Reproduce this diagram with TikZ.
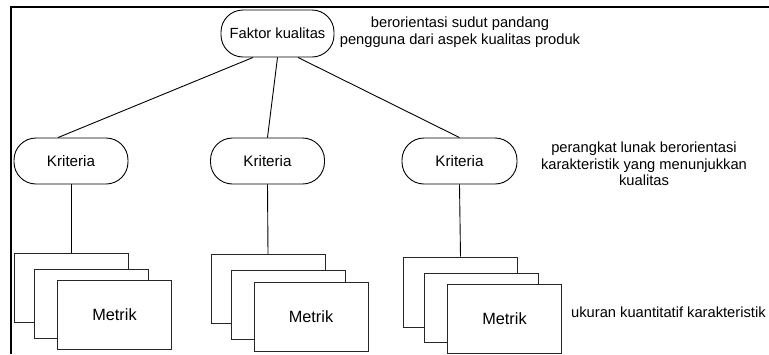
\documentclass[tikz,border=0pt]{standalone}
\usepackage{fontspec}
\setmainfont{Liberation Sans}
\begin{document}
\begin{tikzpicture}[x=1pt,y=-1pt,
  every node/.style={font=\fontsize{14.7}{16.5}\selectfont},
  pill/.style={draw=black,line width=0.9pt,fill=white,rounded corners=22pt,inner sep=0pt},
  card/.style={draw=black!85,line width=0.9pt,fill=white,inner sep=0pt,minimum width=114pt,minimum height=69pt},
  bigtext/.style={font=\fontsize{16.3}{18}\selectfont},
  link/.style={draw=black,line width=0.9pt},
  note/.style={align=center,inner sep=0pt}]
\useasboundingbox (0,0) rectangle (769,354);
% frame
\draw[line width=2pt] (11,354) -- (11,7) -- (769,7);
% top node
\node[pill,minimum width=113pt,minimum height=47pt] (top) at (277.5,33.5) {Faktor kualitas};
\node[note] (n1) at (460,32) {berorientasi sudut pandang\\pengguna dari aspek kualitas produk};
% kriteria
\node[pill,minimum width=114pt,minimum height=46pt,font=\fontsize{15.2}{17}\selectfont] (k1) at (71,161) {Kriteria};
\node[pill,minimum width=114pt,minimum height=46pt,font=\fontsize{15.2}{17}\selectfont] (k2) at (267.5,161) {Kriteria};
\node[pill,minimum width=115pt,minimum height=46pt,font=\fontsize{15.2}{17}\selectfont] (k3) at (459.5,161) {Kriteria};
\node[note] (n2) at (644,164) {perangkat lunak berorientasi\\karakteristik yang menunjukkan\\kualitas};
% links top -> kriteria
\draw[link] ([xshift=-24.5pt]top.south) -- ([xshift=-13pt]k1.north);
\draw[link] (top.south) -- (k2.north);
\draw[link] ([xshift=20.5pt]top.south) -- (k3.north);
% stacks
\node[card] (a1) at (71,287.5) {};
\node[card] (a2) at (91.5,303.5) {};
\node[card,bigtext] (a3) at (114.5,314.5) {Metrik};
\node[card] (b1) at (268,289) {};
\node[card] (b2) at (288,305) {};
\node[card,bigtext] (b3) at (311,316.5) {Metrik};
\node[card,minimum height=70pt] (c1) at (460.5,292) {};
\node[card] (c2) at (481,307.5) {};
\node[card,bigtext] (c3) at (504.5,318.5) {Metrik};
\node[note,anchor=west] (n3) at (571,312) {ukuran kuantitatif karakteristik};
% links kriteria -> metrik
\draw[link] (k1.south) -- (a1.north);
\draw[link] (k2.south) -- (b1.north);
\draw[link] (k3.south) -- (c1.north);
\end{tikzpicture}
\end{document}
